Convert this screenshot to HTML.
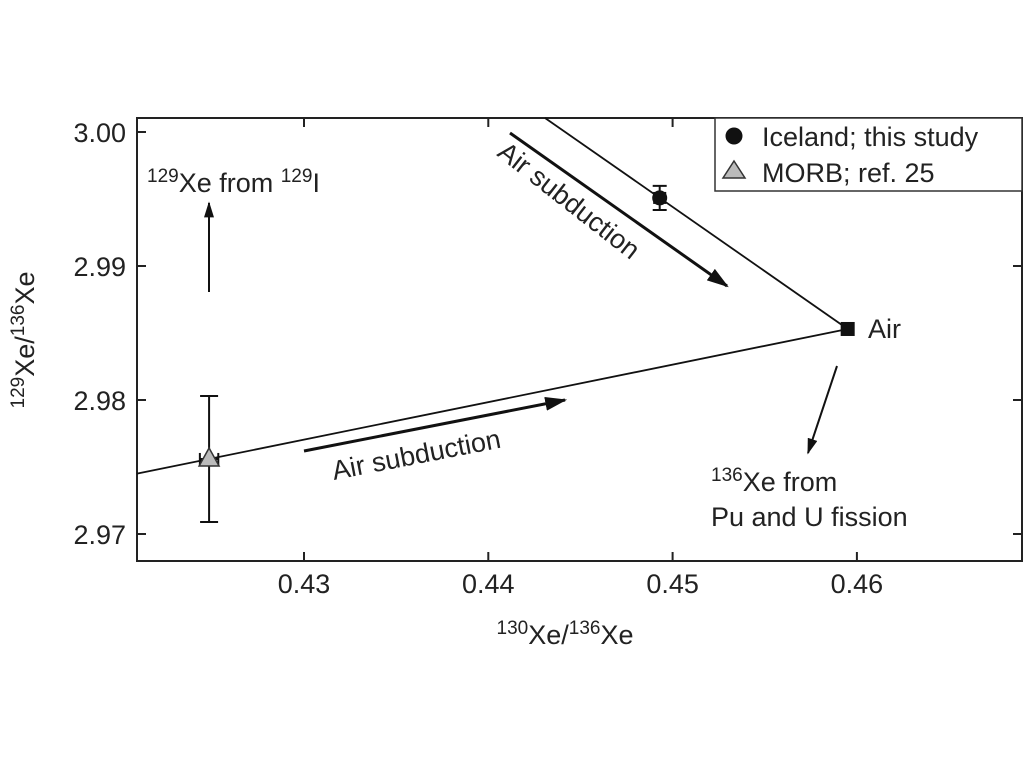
<!DOCTYPE html>
<html><head><meta charset="utf-8"><style>
body{margin:0;background:#fff;}
svg{display:block;font-family:"Liberation Sans",Arial,sans-serif;}
</style></head><body>
<svg id="chart" width="1024" height="768" viewBox="0 0 1024 768">
<defs>
<marker id="ahb" viewBox="0 0 10 10" refX="9" refY="5" markerWidth="22" markerHeight="14" orient="auto" markerUnits="userSpaceOnUse" preserveAspectRatio="none"><path d="M0,0 L10,5 L0,10 z" fill="#111"/></marker>
<marker id="ahs" viewBox="0 0 10 10" refX="9" refY="5" markerWidth="16" markerHeight="10" orient="auto" markerUnits="userSpaceOnUse" preserveAspectRatio="none"><path d="M0,0 L10,5 L0,10 z" fill="#111"/></marker></defs>
<g id="g"></g>
</svg>
<script>
const xTicks=[0.43,0.44,0.45,0.46];
const xTickLabels=["0.43","0.44","0.45","0.46"];
const yTicks=[2.97,2.98,2.99,3.00];
const yTickLabels=["2.97","2.98","2.99","3.00"];
const morb=[0.42485,2.97560];
const morbErr=[0.0005,0.0047];
const iceland=[0.4493,2.99508];
const icelandErr=[0.0003,0.0009];
const air=[0.4595,2.9853];
const L=137,R=1022,T=118,B=561;
const FS=27,SS=19;
const X=v=>304+(v-0.43)*18430;
const Y=v=>132+(3.00-v)*13400;
const NS='http://www.w3.org/2000/svg';
const g=document.getElementById('g');
function el(tag,attrs,parent){const e=document.createElementNS(NS,tag);for(const k in attrs)e.setAttribute(k,attrs[k]);(parent||g).appendChild(e);return e;}
let f=el('rect',{x:L,y:T,width:R-L,height:B-T,fill:'none',stroke:'#222','stroke-width':2});


xTicks.forEach((t,i)=>{
 el('line',{x1:X(t),x2:X(t),y1:B,y2:B-9,stroke:'#222','stroke-width':2});
 el('line',{x1:X(t),x2:X(t),y1:T,y2:T+9,stroke:'#222','stroke-width':2});
 let tx=el('text',{x:X(t),y:593,'font-size':FS,'text-anchor':'middle',fill:'#222'});
 tx.textContent=xTickLabels[i];
 
 
});
yTicks.forEach((t,i)=>{
 el('line',{x1:L,x2:L+9,y1:Y(t),y2:Y(t),stroke:'#222','stroke-width':2});
 el('line',{x1:R,x2:R-9,y1:Y(t),y2:Y(t),stroke:'#222','stroke-width':2});
 let tx=el('text',{x:126,y:Y(t)+10,'font-size':FS,'text-anchor':'end',fill:'#222'});
 tx.textContent=yTickLabels[i];
 
 
});
let ax=X(air[0]),ay=Y(air[1]),mx=X(morb[0]),my=Y(morb[1]);
let sl=(my-ay)/(mx-ax);
let l1=el('line',{x1:ax,y1:ay,x2:L,y2:ay+sl*(L-ax),stroke:'#111','stroke-width':1.8});


let ix=X(iceland[0]),iy=Y(iceland[1]);
let s2=(ix-ax)/(iy-ay);
let l2=el('line',{x1:ax,y1:ay,x2:ax+s2*(T-ay),y2:T,stroke:'#111','stroke-width':1.8});


function err(p,e,name,cap){
 const gg=el('g',{stroke:'#111','stroke-width':2});
 
 
 const x=X(p[0]),y=Y(p[1]),y1=Y(p[1]+e[1]),y2=Y(p[1]-e[1]),x1=X(p[0]-e[0]),x2=X(p[0]+e[0]);
 el('line',{x1:x,x2:x,y1:y1,y2:y2},gg);
 el('line',{x1:x-cap,x2:x+cap,y1:y1,y2:y1},gg);
 el('line',{x1:x-cap,x2:x+cap,y1:y2,y2:y2},gg);
 el('line',{x1:x1,x2:x2,y1:y,y2:y},gg);
 el('line',{x1:x1,x2:x1,y1:y-6,y2:y+6},gg);
 el('line',{x1:x2,x2:x2,y1:y-6,y2:y+6},gg);
}
err(morb,morbErr,'morb-error-bar',9);
err(iceland,icelandErr,'iceland-error-bar',7);
let tri=el('path',{d:`M${mx},${my-11} L${mx+10},${my+7} L${mx-10},${my+7} Z`,fill:'#bbb',stroke:'#333','stroke-width':1.5});


let c=el('circle',{cx:ix,cy:iy,r:7.5,fill:'#111'});


let sq=el('rect',{x:ax-7,y:ay-7,width:14,height:14,fill:'#111'});


function arrow(x1,y1,x2,y2,w,m,name){let a=el('line',{x1,y1,x2,y2,stroke:'#111','stroke-width':w,'marker-end':`url(#${m})`});
 
 }
arrow(209,292,209,203,2,'ahs','iodine-arrow');
arrow(304,451,565,400,3,'ahb','lower-subduction-arrow');
arrow(510,133,727,286,3,'ahb','upper-subduction-arrow');
arrow(837,366,808,453,2,'ahs','fission-arrow');
function txt(html,attrs,name){let t=el('text',Object.assign({'font-size':FS,fill:'#222'},attrs));t.innerHTML=html;
 
 return t;}
const sup=s=>`<tspan font-size="${SS}" dy="-10">${s}</tspan>`;
txt(`${sup('129')}<tspan dy="10">Xe from </tspan>${sup('129')}<tspan dy="10">I</tspan>`,{x:147,y:192},'iodine-label');
txt('Air subduction',{x:0,y:0,transform:'translate(334,480) rotate(-11)'},'lower-subduction-label');
txt('Air subduction',{x:0,y:0,transform:'translate(496,155) rotate(38)'},'upper-subduction-label');
txt('Air',{x:868,y:338},'air-label');
txt(`${sup('136')}<tspan dy="10">Xe from</tspan>`,{x:711,y:491},'fission-label-1');
txt('Pu and U fission',{x:711,y:526},'fission-label-2');
txt(`${sup('130')}<tspan dy="10">Xe/</tspan>${sup('136')}<tspan dy="10">Xe</tspan>`,{x:565,y:644,'text-anchor':'middle'},'x-axis-title');
txt(`${sup('129')}<tspan dy="10">Xe/</tspan>${sup('136')}<tspan dy="10">Xe</tspan>`,{x:0,y:0,'text-anchor':'middle',transform:'translate(34,340) rotate(-90)'},'y-axis-title');
let lg=el('rect',{x:715,y:118,width:307,height:73,fill:'#fff',stroke:'#333','stroke-width':1.5});


let lc=el('circle',{cx:734,cy:136,r:8.5,fill:'#111'});


let lt=el('path',{d:'M734,161 L745,178 L723,178 Z',fill:'#bbb',stroke:'#333','stroke-width':1.5});


txt('Iceland; this study',{x:762,y:146},'legend-iceland');
txt('MORB; ref. 25',{x:762,y:182},'legend-morb');
</script>
</body></html>
